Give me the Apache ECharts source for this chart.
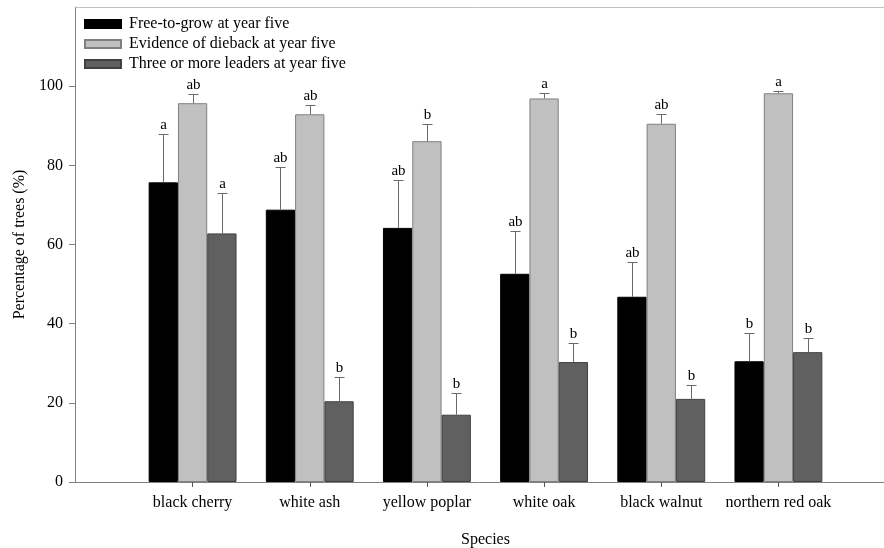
<!DOCTYPE html>
<html>
<head>
<meta charset="utf-8">
<script src="https://cdn.jsdelivr.net/npm/echarts@6/dist/echarts.min.js"></script>
<style>html,body{margin:0;padding:0;background:#fff;}#c{width:884px;height:548px;}</style>
</head>
<body>
<div id="c"></div>
<script>
const categories = ['black cherry', 'white ash', 'yellow poplar', 'white oak', 'black walnut', 'northern red oak'];
const seriesNames = ['Free-to-grow at year five', 'Evidence of dieback at year five', 'Three or more leaders at year five'];
const freeToGrow = [75.7, 68.8, 64.2, 52.6, 46.8, 30.5];
const freeToGrowErr = [12.1, 10.9, 12.0, 10.9, 8.8, 7.2];
const dieback = [95.7, 92.9, 86.1, 96.9, 90.5, 98.2];
const diebackErr = [2.4, 2.4, 4.3, 1.4, 2.5, 0.7];
const leaders = [62.8, 20.4, 17.0, 30.3, 21.0, 32.8];
const leadersErr = [10.1, 6.2, 5.4, 4.9, 3.4, 3.5];
const freeToGrowLetters = ['a', 'ab', 'ab', 'ab', 'ab', 'b'];
const diebackLetters = ['ab', 'ab', 'b', 'a', 'ab', 'a'];
const leadersLetters = ['a', 'b', 'b', 'b', 'b', 'b'];
const yTicks = [0, 20, 40, 60, 80, 100];

const values = [freeToGrow, dieback, leaders];
const errs = [freeToGrowErr, diebackErr, leadersErr];
const letters = [freeToGrowLetters, diebackLetters, leadersLetters];
const fills = ['#000000', '#c0c0c0', '#606060'];
const borders = ['#000000', '#808080', '#404040'];
const FONT = '"Liberation Serif", "Times New Roman", serif';

function errRender(k) {
  return function (params, api) {
    const idx = api.value(0);
    const v = api.value(1);
    const top = api.value(2);
    const band = api.size([1, 0])[0];
    const off = band * 0.25 * (k - 1);
    const p0 = api.coord([idx, v]);
    const p1 = api.coord([idx, top]);
    const x = Math.round(p0[0] + off) + 0.5;
    const yt = Math.round(p1[1]) + 0.5;
    const cap = 5;
    const st = { stroke: '#6a6a6a', lineWidth: 1 };
    return {
      type: 'group',
      children: [
        { type: 'line', shape: { x1: x, y1: p0[1], x2: x, y2: yt }, style: st },
        { type: 'line', shape: { x1: x - cap, y1: yt, x2: x + cap, y2: yt }, style: st },
        { type: 'text', x: x, y: yt - 2, style: { text: letters[k][idx], textAlign: 'center', textVerticalAlign: 'bottom', font: '15px ' + FONT, fill: '#000' } }
      ]
    };
  };
}

const series = [];
for (let k = 0; k < 3; k++) {
  series.push({
    name: seriesNames[k], type: 'bar', xAxisIndex: 2, yAxisIndex: 1,
    data: values[k], barWidth: '25%', barGap: '0%',
    itemStyle: { color: fills[k], borderColor: borders[k], borderWidth: 1 },
    animation: false
  });
}
for (let k = 0; k < 3; k++) {
  series.push({
    type: 'custom', xAxisIndex: 2, yAxisIndex: 1, renderItem: errRender(k),
    data: categories.map((c, i) => [i, values[k][i], values[k][i] + errs[k][i]]),
    z: 5, animation: false, silent: true
  });
}

const chart = echarts.init(document.getElementById('c'));
chart.setOption({
  animation: false,
  textStyle: { fontFamily: FONT },
  legend: {
    data: seriesNames, orient: 'vertical', left: 84, top: 16, padding: 0,
    icon: 'rect', itemWidth: 36, itemHeight: 8, itemGap: 4,
    textStyle: { fontFamily: FONT, fontSize: 16, color: '#000', padding: [0, 0, 0, 3] },
    selectedMode: false
  },
  grid: [
    { left: 75, right: 0, top: 7, bottom: 66, outerBoundsMode: 'none', containLabel: false },
    { left: 134, right: 47, top: 7, bottom: 66, outerBoundsMode: 'none', containLabel: false }
  ],
  xAxis: [
    { gridIndex: 0, type: 'value', min: 0, max: 1, position: 'bottom',
      axisLine: { show: true, lineStyle: { color: '#808080', width: 1 } },
      axisTick: { show: false }, axisLabel: { show: false }, splitLine: { show: false } },
    { gridIndex: 0, type: 'value', min: 0, max: 1, position: 'top',
      axisLine: { show: true, lineStyle: { color: '#c0c0c0', width: 1 } },
      axisTick: { show: false }, axisLabel: { show: false }, splitLine: { show: false } },
    { gridIndex: 1, type: 'category', data: categories, position: 'bottom',
      axisLine: { show: false },
      axisTick: { show: true, alignWithLabel: true, length: 5, lineStyle: { color: '#555' } },
      axisLabel: { interval: 0, margin: 13, fontSize: 16, color: '#000', fontFamily: FONT },
      name: 'Species', nameLocation: 'middle', nameGap: 50,
      nameTextStyle: { fontSize: 16, color: '#000', fontFamily: FONT } }
  ],
  yAxis: [
    { gridIndex: 0, type: 'value', min: 0, max: 120, interval: 20,
      axisLine: { show: true, lineStyle: { color: '#808080', width: 1 } },
      axisTick: { show: true, length: 6, customValues: yTicks, lineStyle: { color: '#808080' } },
      axisLabel: { customValues: yTicks, margin: 12, fontSize: 16, color: '#000', fontFamily: FONT },
      splitLine: { show: false },
      name: 'Percentage of trees (%)', nameLocation: 'middle', nameGap: 45,
      nameTextStyle: { fontSize: 16, color: '#000', fontFamily: FONT } },
    { gridIndex: 1, type: 'value', min: 0, max: 120, interval: 20, show: false, splitLine: { show: false } }
  ],
  series: series
});
</script>
</body>
</html>
